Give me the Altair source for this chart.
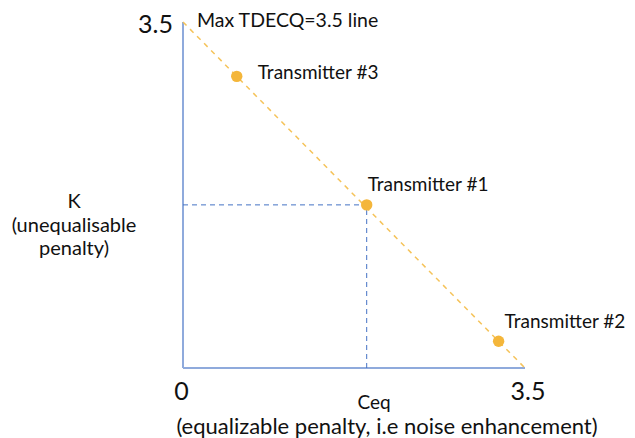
import altair as alt
import pandas as pd

# data
names = ["Transmitter #3", "Transmitter #1", "Transmitter #2"]
ceq = [0.55, 1.88, 3.23]
k = [2.95, 1.65, 0.27]
max_line_x = [0.0, 3.5]
max_line_y = [3.5, 0.0]
axis_max = 3.5

FONT = "Lato"
AXIS_COL = "#8FAADC"
GUIDE_COL = "#4472C4"
DIAG_COL = "#F5C35A"
PT_COL = "#F4B63A"

pts = pd.DataFrame({"name": names, "ceq": ceq, "k": k})
diag = pd.DataFrame({"x": max_line_x, "y": max_line_y})
ref = pts[pts["name"] == "Transmitter #1"]

xs = alt.Scale(domain=[0, axis_max], nice=False, zero=False)
ys = alt.Scale(domain=[0, axis_max], nice=False, zero=False)

base = alt.Chart(pts)

ax_df = pd.DataFrame({"x0": [0.0], "x1": [axis_max], "y0": [0.0], "y1": [axis_max]})
xaxis = alt.Chart(ax_df).mark_rule(color=AXIS_COL, strokeWidth=2).encode(
    x=alt.X("x0:Q", scale=xs, axis=None), x2="x1:Q", y=alt.Y("y0:Q", scale=ys, axis=None))
yaxis = alt.Chart(ax_df).mark_rule(color=AXIS_COL, strokeWidth=2).encode(
    x=alt.X("x0:Q", scale=xs, axis=None), y=alt.Y("y0:Q", scale=ys, axis=None), y2="y1:Q")

diag_line = alt.Chart(diag).mark_line(color=DIAG_COL, strokeDash=[5, 5], strokeWidth=1.5).encode(
    x=alt.X("x:Q", scale=xs, axis=None), y=alt.Y("y:Q", scale=ys, axis=None))

ref_df = ref.assign(zero=0.0)
hguide = alt.Chart(ref_df).mark_rule(color=GUIDE_COL, strokeDash=[5, 4], strokeWidth=1).encode(
    x=alt.X("zero:Q", scale=xs, axis=None), x2="ceq:Q", y=alt.Y("k:Q", scale=ys, axis=None))
vguide = alt.Chart(ref_df).mark_rule(color=GUIDE_COL, strokeDash=[5, 4], strokeWidth=1).encode(
    x=alt.X("ceq:Q", scale=xs, axis=None), y=alt.Y("zero:Q", scale=ys, axis=None), y2="k:Q")

points = base.mark_circle(size=130, color=PT_COL, opacity=1).encode(
    x=alt.X("ceq:Q", scale=xs, axis=None), y=alt.Y("k:Q", scale=ys, axis=None))

offsets = {"Transmitter #3": (21, -3), "Transmitter #1": (1, -20), "Transmitter #2": (6, -19)}
label_layers = []
for n, (dx, dy) in offsets.items():
    label_layers.append(
        base.transform_filter(alt.datum.name == n).mark_text(
            align="left", baseline="middle", dx=dx, dy=dy, font=FONT, fontSize=19, color="#111111"
        ).encode(x=alt.X("ceq:Q", scale=xs, axis=None), y=alt.Y("k:Q", scale=ys, axis=None), text="name:N")
    )

def txt(s, x, y, size=16, align="center"):
    return alt.Chart(pd.DataFrame({"t": [s]})).mark_text(
        align=align, baseline="middle", font=FONT, fontSize=size, color="#111111"
    ).encode(x=alt.value(x), y=alt.value(y), text="t:N")

annots = [
    txt("3.5", -10, 3, 25, "right"),
    txt("Max TDECQ=3.5 line", 14, -1, 19.5, "left"),
    txt("0", -1.5, 370, 25),
    txt("3.5", 345, 370, 25),
    txt("Ceq", 191, 381, 19),
    txt("(equalizable penalty, i.e noise enhancement)", 204, 405, 22),
    txt("K", -109, 180, 20),
    txt("(unequalisable", -109, 204, 20),
    txt("penalty)", -109, 227, 20),
]

chart = alt.layer(xaxis, yaxis, diag_line, hguide, vguide, points, *label_layers, *annots).properties(
    width=342, height=346,
    padding={"left": 175, "top": 14, "right": 102, "bottom": 70},
    autosize=alt.AutoSizeParams(type="none"),
).configure_view(stroke=None)

chart.save("out.html", embed_options={"renderer": "svg", "actions": False})
